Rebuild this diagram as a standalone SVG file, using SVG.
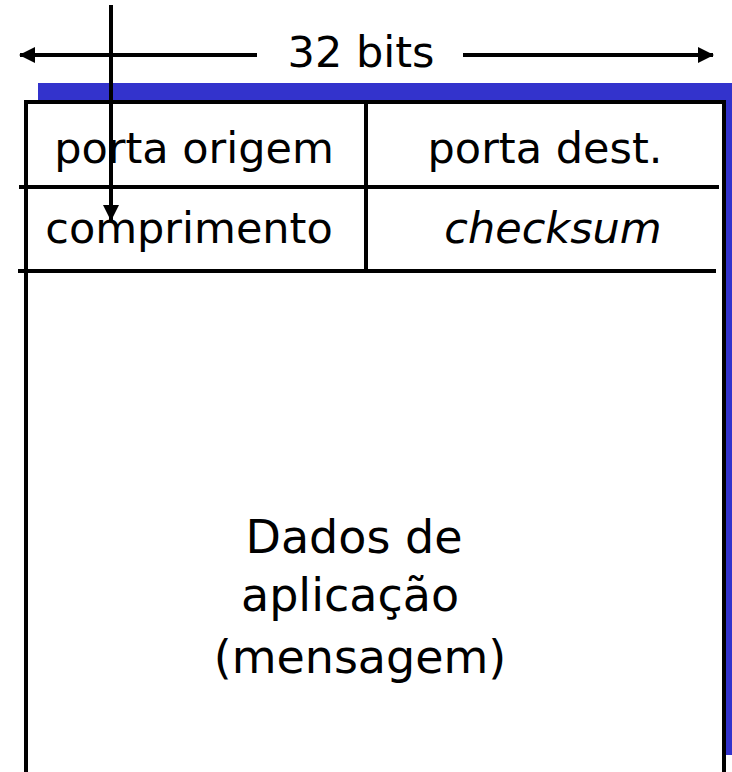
<svg xmlns="http://www.w3.org/2000/svg" width="732" height="772" viewBox="0 0 732 772">
<style>
  .ln { stroke:#000; stroke-width:4; fill:none; }
  .box { stroke:#000; stroke-width:4; fill:#fff; }
  .lbl { font-family:"DejaVu Sans","Liberation Sans",sans-serif; font-size:43px; fill:#000; text-anchor:middle; }
  .big { font-size:46px; }
</style>
<defs>
  <marker id="ah" viewBox="0 0 16 16" refX="15" refY="8" markerWidth="16" markerHeight="16" markerUnits="userSpaceOnUse" orient="auto">
    <path d="M0,0 L16,8 L0,16 Z" fill="#000"/>
  </marker>
</defs>
<rect width="732" height="772" fill="#fff"/>
<g id="segment">
  <rect x="38" y="83" width="700" height="672" fill="#3333CC"/>
  <rect class="box" x="26" y="102" width="698" height="690"/>
  <line class="ln" x1="19" y1="187" x2="719" y2="187"/>
  <line class="ln" x1="18" y1="271" x2="716" y2="271"/>
  <line class="ln" x1="366" y1="102" x2="366" y2="271"/>
</g>
<g id="src-port"><text class="lbl" x="194" y="163">porta origem</text></g>
<g id="dst-port"><text class="lbl" x="545" y="163">porta dest.</text></g>
<g id="length"><text class="lbl" x="189" y="243">comprimento</text></g>
<g id="checksum"><text class="lbl" x="553" y="243" font-style="italic">checksum</text></g>
<g id="data">
  <text class="lbl big" x="354" y="553">Dados de</text>
  <text class="lbl big" x="350" y="611">aplicação</text>
  <text class="lbl big" x="360" y="673">(mensagem)</text>
</g>
<g id="width-label"><text class="lbl" x="361" y="67" font-size="45">32 bits</text></g>
<g id="connectors">
  <line class="ln" x1="257" y1="55" x2="20" y2="55" marker-end="url(#ah)"/>
  <line class="ln" x1="463" y1="55" x2="713" y2="55" marker-end="url(#ah)"/>
  <line class="ln" x1="111" y1="5" x2="111" y2="220" marker-end="url(#ah)"/>
</g>
</svg>
